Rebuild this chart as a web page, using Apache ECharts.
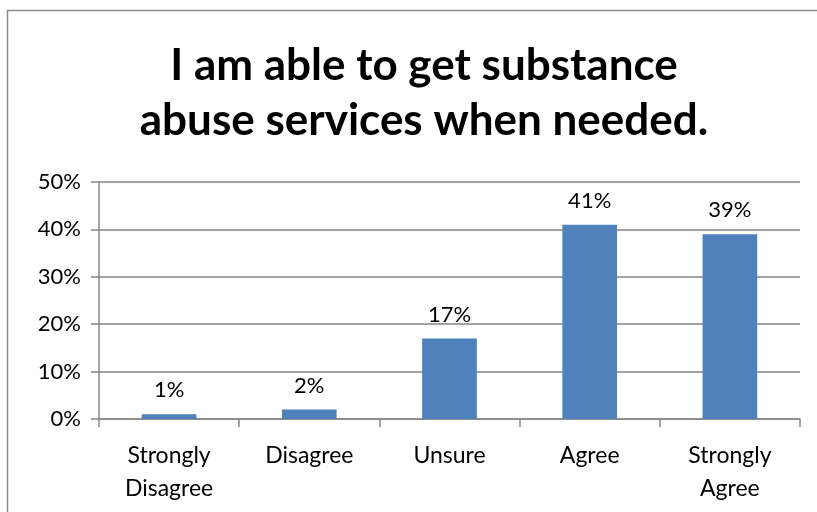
<!DOCTYPE html>
<html>
<head>
<meta charset="utf-8">
<script src="https://cdn.jsdelivr.net/npm/echarts@6/dist/echarts.min.js"></script>
<style>
  html, body { margin: 0; padding: 0; background: #fff; }
  #chart { width: 817px; height: 512px; }
</style>
</head>
<body>
<div id="chart"></div>
<script>
// Survey response categories and share of respondents (%)
const categories = ['Strongly\nDisagree', 'Disagree', 'Unsure', 'Agree', 'Strongly\nAgree'];
const shares = [1, 2, 17, 41, 39];
const yTicks = { min: 0, max: 50, interval: 10 };
const titleLines = ['I am able to get substance', 'abuse services when needed.'];

const chart = echarts.init(document.getElementById('chart'));
const gray = '#868686';
const font = 'Lato, "Open Sans", sans-serif';

chart.setOption({
  animation: false,
  backgroundColor: '#fff',
  graphic: [{
    type: 'rect',
    shape: { x: 7.5, y: 10.5, width: 900, height: 600 },
    style: { fill: 'none', stroke: '#8c8c8c', lineWidth: 1.5 },
    silent: true
  }],
  title: {
    text: titleLines.join('\n'),
    left: 419,
    top: 33,
    textAlign: 'center',
    textStyle: {
      fontFamily: font,
      fontWeight: 'bold',
      fontSize: 44,
      lineHeight: 55,
      color: '#000'
    }
  },
  grid: { left: 99, right: 17, top: 182, bottom: 93 },
  xAxis: {
    type: 'category',
    data: categories,
    axisLine: { lineStyle: { color: gray, width: 1.5 } },
    axisTick: { show: true, length: 8, alignWithLabel: false, lineStyle: { color: gray, width: 1.5 } },
    axisLabel: {
      interval: 0,
      margin: 20,
      color: '#000',
      fontFamily: font,
      fontSize: 23,
      lineHeight: 33
    }
  },
  yAxis: {
    type: 'value',
    min: yTicks.min,
    max: yTicks.max,
    interval: yTicks.interval,
    axisLine: { show: true, lineStyle: { color: gray, width: 1.5 } },
    axisTick: { show: true, length: 8, lineStyle: { color: gray, width: 1.5 } },
    splitLine: { lineStyle: { color: gray, width: 1.5 } },
    axisLabel: {
      formatter: v => v + '%',
      margin: 18,
      color: '#000',
      fontFamily: font,
      fontSize: 22
    }
  },
  series: [{
    type: 'bar',
    data: shares,
    barWidth: '39%',
    itemStyle: { color: '#4f81bd' },
    label: {
      show: true,
      position: 'top',
      distance: 13,
      formatter: p => p.value + '%',
      color: '#000',
      fontFamily: font,
      fontSize: 22
    }
  }]
});
</script>
</body>
</html>
